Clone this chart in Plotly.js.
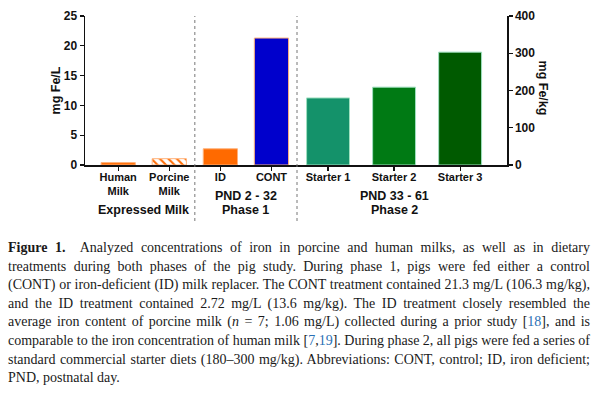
<!DOCTYPE html>
<html>
<head>
<meta charset="utf-8">
<script src="https://cdn.plot.ly/plotly-3.0.1.min.js"></script>
<style>
  html, body { margin: 0; padding: 0; background: #fff; width: 600px; height: 393px; overflow: hidden; }
  #chart { position: absolute; left: 0; top: 0; width: 600px; height: 232px; }
  #caption { position: absolute; left: 8px; top: 239px; width: 582px;
    font-family: "Liberation Serif", "DejaVu Serif", serif; font-size: 14px; color: #1a1a1a; line-height: 18.6px; }
  #caption div { text-align: justify; text-align-last: justify; white-space: nowrap; }
  #caption div.last { text-align-last: left; }
  #caption .ref { color: #2a6fb5; }
</style>
</head>
<body>
<div id="chart"></div>
<div id="caption">
  <div><b>Figure 1.</b>&nbsp; Analyzed concentrations of iron in porcine and human milks, as well as in dietary</div>
  <div>treatments during both phases of the pig study. During phase 1, pigs were fed either a control</div>
  <div>(CONT) or iron-deficient (ID) milk replacer. The CONT treatment contained 21.3 mg/L (106.3 mg/kg),</div>
  <div>and the ID treatment contained 2.72 mg/L (13.6 mg/kg). The ID treatment closely resembled the</div>
  <div>average iron content of porcine milk (<i>n</i> = 7; 1.06 mg/L) collected during a prior study [<span class="ref">18</span>], and is</div>
  <div>comparable to the iron concentration of human milk [<span class="ref">7</span>,<span class="ref">19</span>]. During phase 2, all pigs were fed a series of</div>
  <div>standard commercial starter diets (180–300 mg/kg). Abbreviations: CONT, control; ID, iron deficient;</div>
  <div class="last">PND, postnatal day.</div>
</div>
<script>
// ---- data ----
const milkCategories = ["Human<br>Milk", "Porcine<br>Milk", "ID", "CONT"];
const milkValues = [0.4, 1.06, 2.72, 21.3];            // mg Fe/L
const milkColors = ["#FF6A00", "#FF6A00", "#FF6A00", "#0000CC"];
const milkPatterns = ["", "\\", "", ""];
const starterCategories = ["Starter 1", "Starter 2", "Starter 3"];
const starterValues = [180, 209, 303];                  // mg Fe/kg
const starterColors = ["#14926A", "#007A14", "#005A00"];
const groupExpressed = ["Expressed Milk"];
const groupPhase1 = ["PND 2 - 32", "Phase 1"];
const groupPhase2 = ["PND 33 - 61", "Phase 2"];
const leftTitle = "mg Fe/L";
const rightTitle = "mg Fe/kg";

const fam = "Liberation Sans, Arial, sans-serif";
const boldFont = (s) => ({family: fam, size: s, color: "#111", weight: "bold"});

const traces = [
  {
    type: "bar", x: milkCategories, y: milkValues, xaxis: "x", yaxis: "y",
    width: 0.67,
    marker: {color: milkColors, line: {color: "#ffb27a", width: 1},
             pattern: {shape: milkPatterns, fgcolor: "#ffffff", size: 6, solidity: 0.35}},
    hoverinfo: "x+y", showlegend: false
  },
  {
    type: "bar", x: starterCategories, y: starterValues, xaxis: "x2", yaxis: "y2",
    width: 0.65,
    marker: {color: starterColors, line: {color: "#9fe0c0", width: 1}},
    hoverinfo: "x+y", showlegend: false
  }
];

// plot area: x 85..507, y 16..165 in a 600x232 div
const W = 600, H = 232, L = 85, R = 507, T = 16, B = 165;
const split = (297 - L) / (R - L);
const py = (pix) => (B - pix) / (B - T);   // pixel row -> paper y
const px = (pix) => (pix - L) / (R - L);   // pixel col -> paper x

const axisCommon = {showline: true, linecolor: "#111", linewidth: 1.5, ticks: "outside", ticklen: 4,
                    tickcolor: "#111", tickwidth: 1.2, showgrid: false, zeroline: false, tickfont: boldFont(12)};

const annotations = [];
function groupLabel(lines, xref, x, rows) {
  lines.forEach((t, i) => annotations.push({xref: xref, x: x, yref: "paper", y: py(rows[i]), yanchor: "middle",
    text: t, showarrow: false, font: boldFont(12.5)}));
}
groupLabel(groupExpressed, "x", 0.5, [210]);
groupLabel(groupPhase1, "x", 2.5, [196, 210]);
groupLabel(groupPhase2, "x2", 1, [196, 210]);
annotations.push({xref: "paper", x: px(543), xanchor: "center", yref: "paper", y: 0.52, yanchor: "middle",
  text: rightTitle, textangle: 90, showarrow: false, font: boldFont(12.5)});

const xtickCommon = {tickfont: boldFont(11), ticklabelstandoff: -3};

const layout = {
  width: W, height: H,
  margin: {l: L, r: W - R, t: T, b: H - B, pad: 0},
  paper_bgcolor: "#fff", plot_bgcolor: "#fff",
  font: {family: fam, color: "#111", size: 12},
  bargap: 0,
  xaxis: Object.assign({}, axisCommon, xtickCommon, {domain: [0, split], range: [-0.65, 3.5], type: "category"}),
  xaxis2: Object.assign({}, axisCommon, xtickCommon, {domain: [split, 1], range: [-0.47, 2.71], type: "category", anchor: "y2"}),
  yaxis: Object.assign({}, axisCommon, {range: [0, 25], dtick: 5,
          title: {text: leftTitle, standoff: 0, font: boldFont(12.5)}}),
  yaxis2: Object.assign({}, axisCommon, {range: [0, 400], dtick: 100, overlaying: "y", side: "right", anchor: "x2"}),
  shapes: [
    {type: "line", xref: "x", x0: 1.5, x1: 1.5, yref: "paper", y0: py(221), y1: 1,
     line: {color: "#777", width: 1, dash: "dot"}},
    {type: "line", xref: "paper", x0: split, x1: split, yref: "paper", y0: py(221), y1: 1,
     line: {color: "#777", width: 1, dash: "dot"}}
  ],
  annotations: annotations
};

Plotly.newPlot("chart", traces, layout, {displayModeBar: false, staticPlot: true});
</script>
</body>
</html>
